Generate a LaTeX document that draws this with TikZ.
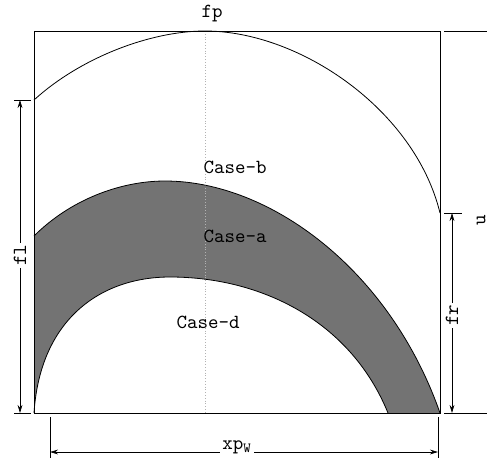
\documentclass[tikz,border=0pt]{standalone}
\usetikzlibrary{arrows.meta}
\tikzset{
  quota/.style={{Stealth[length=4pt,width=2.4pt]}-{Stealth[length=4pt,width=2.4pt]}, thin},
  etichetta/.style={font=\ttfamily, inner sep=1pt},
}
\begin{document}
\begin{tikzpicture}[x=0.5pt,y=-0.5pt]
    \useasboundingbox (0,0) rectangle (487,461);

    % Area grigia tra le due curve (Case-a)
    \fill[black!55] (34,413) -- (34,236)
      .. controls (70,200) and (120,181) .. (165,181)
      .. controls (270,181) and (390,270) .. (440,413)
      -- (388,413)
      .. controls (350,320) and (260,277) .. (170,277)
      .. controls (100,277) and (40,320) .. (34,413)
      -- cycle;

    % Linea verticale punteggiata
    \draw[gray!60, densely dotted] (205,31) -- (205,413);

    % Riquadro
    \draw (34,31) rectangle (440,413);

    % Curva superiore fp
    \draw (34,100) .. controls (80,58) and (150,31) .. (205,31)
      .. controls (300,31) and (415,110) .. (440,213);

    % Bordi della zona grigia
    \draw (34,236) .. controls (70,200) and (120,181) .. (165,181)
      .. controls (270,181) and (390,270) .. (440,413);
    \draw (34,413) .. controls (40,320) and (100,277) .. (170,277)
      .. controls (260,277) and (350,320) .. (388,413);

    % Linee di richiamo
    \draw (14,100) -- (31,100);
    \draw (14,413) -- (31,413);
    \draw (444,213) -- (462,213);
    \draw (444,31) -- (487,31);
    \draw (444,413) -- (487,413);
    \draw (50,417) -- (50,458);
    \draw (438,417) -- (438,458);

    % Quote
    \coordinate (fl-su) at (20,100);
    \coordinate (fl-giu) at (20,413);
    \coordinate (fr-su) at (452,213);
    \coordinate (fr-giu) at (452,413);
    \coordinate (xp-sx) at (50,452);
    \coordinate (xp-dx) at (438,452);
    \draw[quota] (fl-su) -- (fl-giu);
    \draw[quota] (fr-su) -- (fr-giu);
    \draw[quota] (xp-sx) -- (xp-dx);

    % Etichette
    \node[etichetta] (fp) at (212,14) {fp};
    \node[etichetta] (caseb) at (235,167) {Case-b};
    \node[etichetta] (casea) at (235,236) {Case-a};
    \node[etichetta] (cased) at (208,322) {Case-d};
    \node[etichetta, fill=white, rotate=90] (fl) at (20,255) {fl};
    \node[etichetta, fill=white, rotate=90] (fr) at (452,315) {fr};
    \node[etichetta, rotate=90] (u) at (481,220) {u};
    \node[etichetta, fill=white] (xpw) at (237,447) {xp\textsubscript{W}};
\end{tikzpicture}
\end{document}
